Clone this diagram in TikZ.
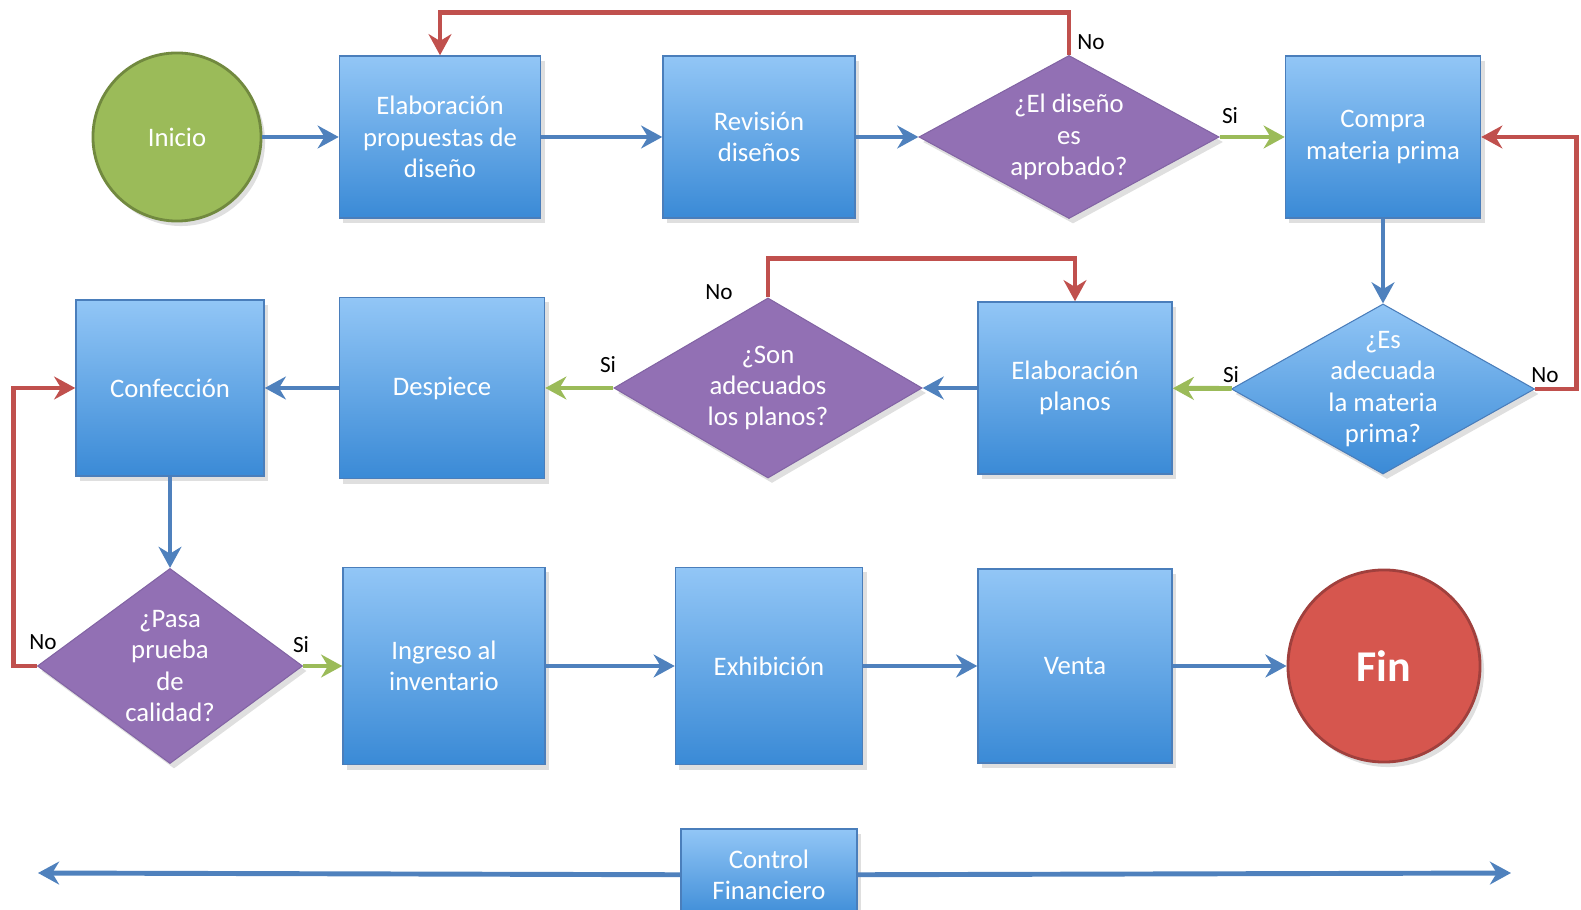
\documentclass[tikz,border=0pt]{standalone}
\usepackage{fontspec}
\setmainfont{Carlito}
\usetikzlibrary{shapes.geometric,arrows.meta,shadows}

\begin{document}
\begin{tikzpicture}[x=0.01cm, y=-0.01cm,
        sombra/.style={drop shadow={opacity=0.25, shadow xshift=0.4mm, shadow yshift=-0.5mm}},
        caja/.style={rectangle, draw=bordeAzul, line width=0.4pt, top color=azulClaro, bottom color=azulOscuro, text=white, align=center, font=\fontsize{7.6}{8.9}\selectfont, sombra},
        decision/.style={diamond, draw=bordeMorado, line width=0.3pt, fill=morado, inner sep=0pt, sombra},
        textoDecision/.style={text=white, align=center, font=\fontsize{7.6}{8.9}\selectfont},
        terminal/.style={circle, line width=0.8pt, inner sep=0pt, sombra},
        flecha/.style={line width=1.4pt, -{Stealth[length=6pt, width=6.5pt]}},
        etiqueta/.style={text=black, font=\fontsize{6.6}{7.5}\selectfont}]
        \definecolor{azulClaro}{RGB}{146, 198, 246}
        \definecolor{azulOscuro}{RGB}{58, 138, 214}
        \definecolor{bordeAzul}{RGB}{74, 126, 187}
        \definecolor{morado}{RGB}{146, 112, 180}
        \definecolor{bordeMorado}{RGB}{130, 100, 164}
        \definecolor{verdeInicio}{RGB}{155, 187, 89}
        \definecolor{bordeVerde}{RGB}{113, 137, 63}
        \definecolor{rojoFin}{RGB}{214, 86, 78}
        \definecolor{bordeRojo}{RGB}{160, 64, 61}
        \definecolor{flechaAzul}{RGB}{79, 129, 189}
        \definecolor{flechaVerde}{RGB}{155, 187, 89}
        \definecolor{flechaRoja}{RGB}{192, 80, 77}
        \useasboundingbox (0,0) rectangle (1581,910);

        \node[terminal, fill=verdeInicio, draw=bordeVerde, minimum size=1.68cm, text=white, font=\fontsize{7.6}{8.9}\selectfont] (inicio) at (177,137) {Inicio};
        \node[caja, minimum width=2.01cm, minimum height=1.62cm] (propuestas) at (440,137) {Elaboración\\propuestas de\\diseño};
        \node[caja, minimum width=1.92cm, minimum height=1.62cm] (revision) at (759,137) {Revisión\\diseños};
        \node[decision, minimum width=3.0cm, minimum height=1.63cm, label={[textoDecision]center:{¿El diseño\\es\\aprobado?}}] (aprobado) at (1069,137) {};
        \node[caja, minimum width=1.95cm, minimum height=1.62cm] (compra) at (1383,137) {Compra\\materia prima};

        \node[decision, top color=azulClaro, bottom color=azulOscuro, draw=bordeAzul, minimum width=3.03cm, minimum height=1.70cm, label={[textoDecision]center:{¿Es\\adecuada\\la materia\\prima?}}] (materia) at (1383,389) {};
        \node[caja, minimum width=1.94cm, minimum height=1.72cm] (planos) at (1075,388) {Elaboración\\planos};
        \node[decision, minimum width=3.08cm, minimum height=1.80cm, label={[textoDecision]center:{¿Son\\adecuados\\los planos?}}] (planosOk) at (768,388) {};
        \node[caja, minimum width=2.05cm, minimum height=1.81cm] (despiece) at (442,388) {Despiece};
        \node[caja, minimum width=1.88cm, minimum height=1.76cm] (confeccion) at (170,388) {Confección};

        \node[decision, minimum width=2.65cm, minimum height=1.95cm, label={[textoDecision]center:{¿Pasa\\prueba\\de\\calidad?}}] (calidad) at (170,666) {};
        \node[caja, minimum width=2.02cm, minimum height=1.97cm] (ingreso) at (444,666) {Ingreso al\\inventario};
        \node[caja, minimum width=1.87cm, minimum height=1.97cm] (exhibicion) at (769,666) {Exhibición};
        \node[caja, minimum width=1.94cm, minimum height=1.94cm] (venta) at (1075,666) {Venta};
        \node[terminal, fill=rojoFin, draw=bordeRojo, minimum size=1.92cm, text=white, font=\fontsize{12.5}{14}\selectfont\bfseries] (fin) at (1384,666) {Fin};

        \coordinate (limiteIzq) at (38,873);
        \coordinate (limiteDer) at (1511,873);
        \node[caja, minimum width=1.76cm, minimum height=0.92cm] (control) at (769,875) {Control\\Financiero};

        \draw[flecha, flechaAzul] (inicio) -- (propuestas);
        \draw[flecha, flechaAzul] (propuestas) -- (revision);
        \draw[flecha, flechaAzul] (revision) -- (aprobado);
        \draw[flecha, flechaVerde] (aprobado) -- (compra);
        \draw[flecha, flechaRoja] (aprobado.north) -- ++(0,-42) -| (propuestas.north);
        \draw[flecha, flechaAzul] (compra) -- (materia);
        \draw[flecha, flechaRoja] (materia.east) -- ++(41,0) |- (compra.east);
        \draw[flecha, flechaVerde] (materia) -- (planos);
        \draw[flecha, flechaAzul] (planos) -- (planosOk);
        \draw[flecha, flechaRoja] (planosOk.north) -- ++(0,-39) -| (planos.north);
        \draw[flecha, flechaVerde] (planosOk) -- (despiece);
        \draw[flecha, flechaAzul] (despiece) -- (confeccion);
        \draw[flecha, flechaAzul] (confeccion) -- (calidad);
        \draw[flecha, flechaRoja] (calidad.west) -- ++(-23,0) |- (confeccion.west);
        \draw[flecha, flechaVerde] (calidad) -- (ingreso);
        \draw[flecha, flechaAzul] (ingreso) -- (exhibicion);
        \draw[flecha, flechaAzul] (exhibicion) -- (venta);
        \draw[flecha, flechaAzul] (venta) -- (fin);
        \draw[flecha, flechaAzul] (control) -- (limiteIzq);
        \draw[flecha, flechaAzul] (control) -- (limiteDer);

        \node[etiqueta] (no1) at (1091,42) {No};
        \node[etiqueta] (si1) at (1230,116) {Si};
        \node[etiqueta] (no2) at (1545,375) {No};
        \node[etiqueta] (si2) at (1231,375) {Si};
        \node[etiqueta] (no3) at (719,292) {No};
        \node[etiqueta] (si3) at (608,365) {Si};
        \node[etiqueta] (no4) at (43,642) {No};
        \node[etiqueta] (si4) at (301,645) {Si};
    \end{tikzpicture}
\end{document}
